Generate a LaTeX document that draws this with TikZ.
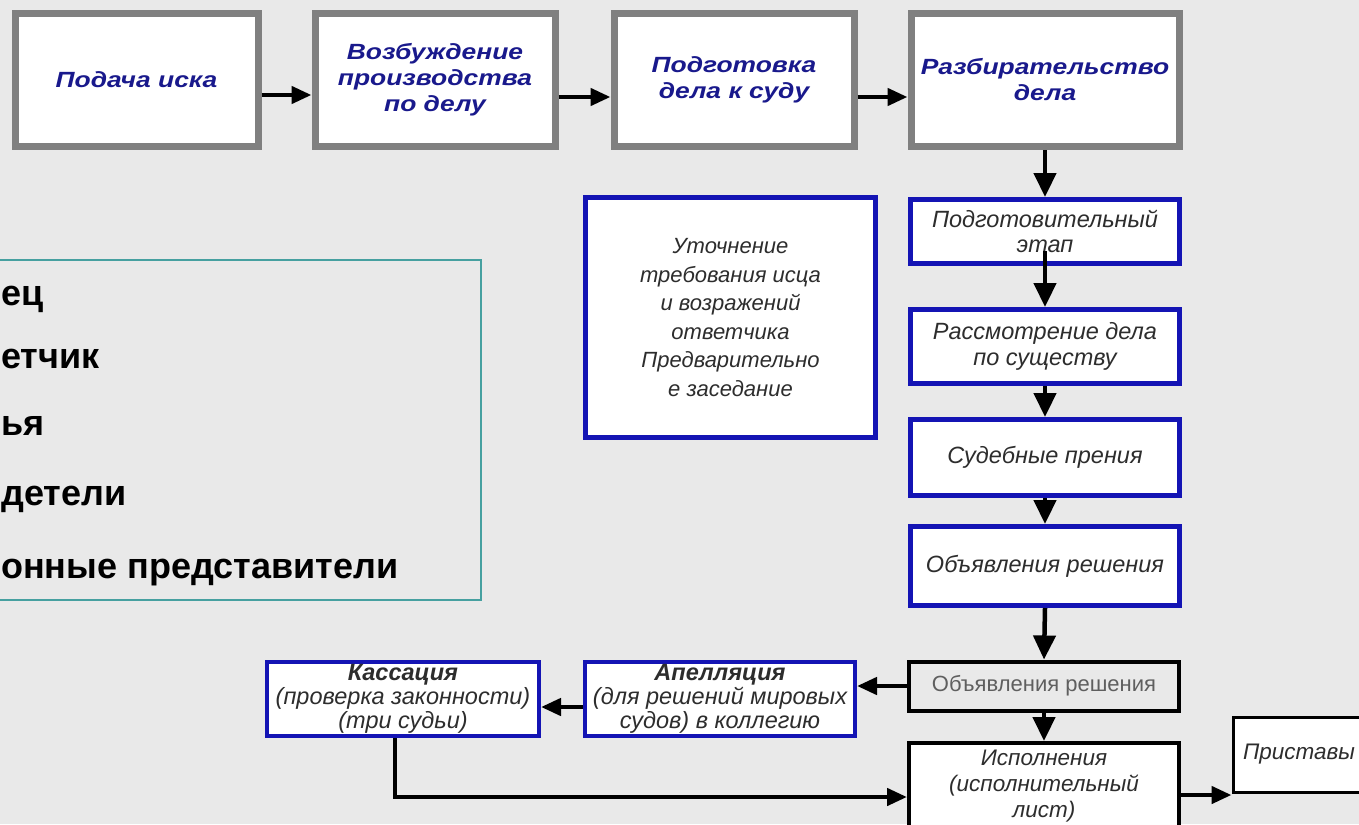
\documentclass[tikz,border=0pt]{standalone}
\usepackage{fontspec}
\setmainfont{Liberation Sans}
\newfontfamily\widefont{Liberation Sans}[FakeStretch=1.2]
\usetikzlibrary{arrows.meta}
\definecolor{bg}{RGB}{233,233,233}
\definecolor{topblue}{RGB}{25,25,140}
\definecolor{bordergray}{RGB}{128,128,128}
\definecolor{boxblue}{RGB}{20,20,180}
\definecolor{txtgray}{RGB}{45,45,45}
\definecolor{lightgraytext}{RGB}{95,95,95}
\definecolor{legteal}{RGB}{70,160,160}
\tikzset{
  topbox/.style={draw=bordergray, line width=7pt, fill=white, align=center, text=topblue,
    font=\widefont\bfseries\itshape\fontsize{22}{26}\selectfont, inner sep=0pt},
  bluebox/.style={draw=boxblue, line width=5pt, fill=white, align=center, text=txtgray,
    font=\itshape\fontsize{23.5}{25.5}\selectfont, inner sep=0pt},
  blackbox/.style={draw=black, line width=4pt, fill=white, align=center, text=txtgray,
    font=\itshape\fontsize{22.5}{26}\selectfont, inner sep=0pt},
  arr/.style={line width=4.5pt, -{Triangle[length=20pt,width=17pt]}},
  varr/.style={line width=4.5pt, -{Triangle[length=24pt,width=22pt]}},
  legtext/.style={anchor=base west, font=\bfseries\fontsize{36}{40}\selectfont, inner sep=0pt},
}
\begin{document}
\begin{tikzpicture}[x=1pt,y=-1pt]
\useasboundingbox (0,0) rectangle (1359,824);
\fill[bg] (0,0) rectangle (1359,824);

% legend box
\draw[legteal, line width=2pt] (-5,260) rectangle (481,600);
\node[legtext] (l1) at (1,305) {ец};
\node[legtext] (l2) at (1,368) {етчик};
\node[legtext] (l3) at (1,435) {ья};
\node[legtext] (l4) at (1,505) {детели};
\node[legtext] (l5) at (1,578) {онные представители};

% top row
\node[topbox, minimum width=243, minimum height=133] (n1) at (136.5,80) {Подача иска};
\node[topbox, minimum width=240, minimum height=133] (n2) at (435,80) {Возбуждение\\производства\\по делу};
\node[topbox, minimum width=240, minimum height=133] (n3) at (734,80) {Подготовка\\дела к суду};
\node[topbox, minimum width=268, minimum height=133] (n4) at (1045,80) {Разбирательство\\дела};

% big box
\node[bluebox, line width=5.5pt, minimum width=290, minimum height=240, font=\itshape\fontsize{22}{28.5}\selectfont] (utoch) at (730.5,317.5)
  {Уточнение\\требования исца\\и возражений\\ответчика\\Предварительно\\е заседание};

% right column
\node[bluebox, minimum width=269, minimum height=64] (prep) at (1045,231.5) {Подготовительный\\этап};
\node[bluebox, minimum width=269, minimum height=74] (rass) at (1045,346.5) {Рассмотрение дела\\по существу};
\node[bluebox, minimum width=269, minimum height=76] (sud) at (1045,457.5) {Судебные прения};
\node[bluebox, minimum width=269, minimum height=79] (obj1) at (1045,566) {Объявления решения};
\node[blackbox, minimum width=270, minimum height=49, fill=bg, text=lightgraytext, font=\fontsize{22}{26}\selectfont] (obj2) at (1044,686) {Объявления решения};
\node[blackbox, minimum width=270, minimum height=86] (isp) at (1044,786) {Исполнения\\(исполнительный\\лист)};
\node[blackbox, line width=3pt, minimum width=156, minimum height=75, text width=136, align=left, inner xsep=10pt] (prist) at (1311,754.5) {Приставы};

% bottom row
\node[bluebox, line width=4pt, minimum width=272, minimum height=74, font=\itshape\fontsize{23.5}{24}\selectfont] (kass) at (403,699)
  {\textbf{Кассация}\\(проверка законности)\\(три судьи)};
\node[bluebox, line width=4pt, minimum width=270, minimum height=74, font=\itshape\fontsize{23.5}{24}\selectfont] (app) at (720,699)
  {\textbf{Апелляция}\\(для решений мировых\\судов) в коллегию};

% arrows
\draw[arr] ([yshift=-15pt]n1.east) -- ([yshift=-15pt]n2.west);
\draw[arr] ([yshift=-17pt]n2.east) -- ([yshift=-17pt]n3.west);
\draw[arr] ([yshift=-17pt]n3.east) -- ([yshift=-17pt]n4.west);
\draw[varr] (n4.south) -- (prep.north);
\draw[varr, shorten <=-15pt] (prep.south) -- (rass.north);
\draw[varr] (rass.south) -- (sud.north);
\draw[varr] (sud.south) -- (obj1.north);
\draw[varr] (obj1.south) -- (obj2.north);
\draw[varr] (obj2.south) -- (isp.north);
\draw[arr] (obj2.west) -- (obj2.west -| app.east);
\draw[arr] ([yshift=-8pt]app.west) -- ([yshift=-8pt]kass.east);
\draw[arr] ([xshift=-8pt]kass.south) |- ([yshift=-11pt]isp.west);
\draw[arr] ([yshift=-9pt]isp.east) -- ([yshift=-9pt]isp.east -| prist.west);
\end{tikzpicture}
\end{document}
